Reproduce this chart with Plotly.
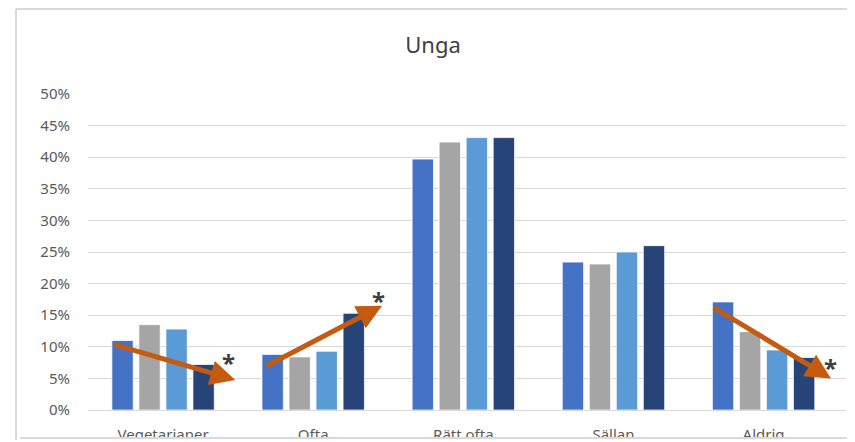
import plotly.graph_objects as go

categories = ["Vegetarianer", "Ofta", "Rätt ofta", "Sällan", "Aldrig"]
serie_1 = [11.0, 8.8, 39.7, 23.4, 17.1]
serie_2 = [13.5, 8.4, 42.4, 23.1, 12.4]
serie_3 = [12.8, 9.3, 43.1, 25.0, 9.5]
serie_4 = [7.2, 15.3, 43.1, 26.0, 8.3]
colors = ["#4472C4", "#A5A5A5", "#5B9BD5", "#264478"]

# trend arrows: (tail x, tail y, tip x, tip y) in category index / percent
arrows = [(-0.333, 10.4, 0.481, 4.75),
          (0.679, 6.85, 1.459, 16.5),
          (3.658, 16.35, 4.449, 5.0)]
stars = [(0.437, 8.4), (1.437, 18.2), (4.443, 7.65)]

# page body has an 8px margin, so the figure is drawn 8px smaller
OFF = 8
W, H = 855 - OFF, 442 - OFF
L, R, T, B = 88 - OFF, 846 - OFF, 94 - OFF, 410 - OFF


def px(x, y):
    # figure pixel -> paper coords
    return (x - L) / (R - L), (B - y) / (B - T)


fig = go.Figure()
for name, vals, c in zip(["Serie 1", "Serie 2", "Serie 3", "Serie 4"],
                         [serie_1, serie_2, serie_3, serie_4], colors):
    fig.add_trace(go.Bar(x=categories, y=vals, name=name, marker_color=c,
                         marker_line=dict(color="white", width=0.75)))

for tx, ty, hx, hy in arrows:
    fig.add_annotation(x=hx, y=hy, ax=tx, ay=ty, xref="x", yref="y",
                       axref="x", ayref="y", showarrow=True, text="",
                       arrowhead=2, arrowsize=1.0, arrowwidth=5,
                       arrowcolor="#C55A11")

for sx, sy in stars:
    fig.add_annotation(x=sx, y=sy, xref="x", yref="y", text="<b>*</b>",
                       showarrow=False, yshift=-6,
                       font=dict(size=24, color="#404040", family="Noto Sans"))

# frame of the cropped chart
fx0, fy0 = px(8, 1)
fx1, fy1 = px(W + 5, 432)
fig.add_shape(type="rect", xref="paper", yref="paper", x0=px(-5, 430.5)[0],
              y0=px(0, 430.5)[1], x1=fx1, y1=px(0, 445)[1],
              fillcolor="white", line_width=0, layer="above")
fig.add_shape(type="line", xref="paper", yref="paper", x0=fx0, y0=fy0, x1=fx0,
              y1=fy1, line=dict(color="#D9D9D9", width=2), layer="above")
fig.add_shape(type="line", xref="paper", yref="paper", x0=fx0, y0=fy0, x1=fx1,
              y1=fy0, line=dict(color="#D9D9D9", width=2), layer="above")
fig.add_shape(type="line", xref="paper", yref="paper", x0=px(12, 430)[0],
              y0=px(0, 430)[1], x1=fx1, y1=px(0, 430)[1],
              line=dict(color="#D9D9D9", width=2), layer="above")

fig.update_layout(
    width=W, height=H,
    margin=dict(l=L, r=W - R, t=T, b=H - B, autoexpand=False),
    paper_bgcolor="white", plot_bgcolor="white",
    barmode="group", bargap=0.28, bargroupgap=0.21,
    showlegend=False,
    font=dict(family="Noto Sans", color="#595959", size=15),
    title=dict(text="Unga", x=(433 - OFF) / W, xanchor="center",
               y=1 - (45 - OFF) / H, yanchor="middle",
               font=dict(size=22, color="#404040")),
)
fig.update_yaxes(range=[0, 50], dtick=5, ticksuffix="%", gridcolor="#D9D9D9",
                 gridwidth=1, zeroline=False, showline=False, automargin=False,
                 ticklabelstandoff=17, tickfont=dict(size=15))
fig.update_xaxes(showline=True, linecolor="#D9D9D9", linewidth=1,
                 automargin=False, ticklabelstandoff=11, tickfont=dict(size=15))

fig.write_html("out.html")
